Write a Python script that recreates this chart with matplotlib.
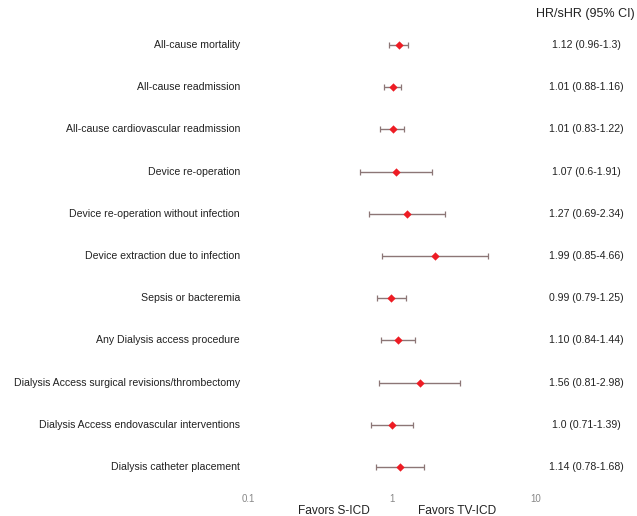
import matplotlib
matplotlib.use("Agg")
import matplotlib.pyplot as plt
from matplotlib.transforms import blended_transform_factory

outcomes = [
    "All-cause mortality",
    "All-cause readmission",
    "All-cause cardiovascular readmission",
    "Device re-operation",
    "Device re-operation without infection",
    "Device extraction due to infection",
    "Sepsis or bacteremia",
    "Any Dialysis access procedure",
    "Dialysis Access surgical revisions/thrombectomy",
    "Dialysis Access endovascular interventions",
    "Dialysis catheter placement",
]
hr = [1.12, 1.01, 1.01, 1.07, 1.27, 1.99, 0.99, 1.10, 1.56, 1.00, 1.14]
lower = [0.96, 0.88, 0.83, 0.60, 0.69, 0.85, 0.79, 0.84, 0.81, 0.71, 0.78]
upper = [1.30, 1.16, 1.22, 1.91, 2.34, 4.66, 1.25, 1.44, 2.98, 1.39, 1.68]
hr_text = [
    "1.12 (0.96-1.3)", "1.01 (0.88-1.16)", "1.01 (0.83-1.22)", "1.07 (0.6-1.91)",
    "1.27 (0.69-2.34)", "1.99 (0.85-4.66)", "0.99 (0.79-1.25)", "1.10 (0.84-1.44)",
    "1.56 (0.81-2.98)", "1.0 (0.71-1.39)", "1.14 (0.78-1.68)",
]
xticks = [0.1, 1, 10]
xtick_labels = ["0.1", "1", "10"]
header = "HR/sHR (95% CI)"
favor_left = "Favors S-ICD"
favor_right = "Favors TV-ICD"

plt.rcParams['font.family'] = ['Liberation Sans', 'DejaVu Sans']

W, H = 637, 516
fig = plt.figure(figsize=(W / 100, H / 100), dpi=100)
left = 248 / W
width = 288 / W
top_px, bot_px = 23.9, 488.1
ax = fig.add_axes([left, 1 - bot_px / H, width, (bot_px - top_px) / H])

ypos = list(range(1, len(outcomes) + 1))
err_lo = [h - l for h, l in zip(hr, lower)]
err_hi = [u - h for h, u in zip(hr, upper)]
ax.errorbar(hr, ypos, xerr=[err_lo, err_hi], fmt='none', ecolor='#8c7676',
            elinewidth=1.0, capsize=2.5, capthick=0.9, zorder=2)
ax.scatter(hr, ypos, marker='D', s=18, color='#ee1c24', zorder=3, linewidths=0)

ax.set_xscale('log')
ax.set_xlim(0.1, 10)
ax.set_ylim(len(outcomes) + 0.5, 0.5)
ax.set_yticks([])
ax.set_xticks(xticks)
ax.set_xticklabels(xtick_labels)
ax.minorticks_off()
ax.tick_params(axis='x', length=0, labelsize=7, labelcolor='#888888', pad=4)
for s in ax.spines.values():
    s.set_visible(False)
ax.patch.set_alpha(0)

tr = blended_transform_factory(ax.transAxes, ax.transData)
for y, name, txt in zip(ypos, outcomes, hr_text):
    ax.text(-0.028, y, name, ha='right', va='center', fontsize=7.6, color='#222222', transform=tr)
    ax.text((586 - 248) / 288, y, txt, ha='center', va='center', fontsize=7.6, color='#222222', transform=tr)

fig.text(536 / W, 1 - 14 / H, header, ha='left', va='center', fontsize=9, color='#222222')
fig.text(333.5 / W, 1 - 511 / H, favor_left, ha='center', va='center', fontsize=8.6, color='#222222')
fig.text(457.5 / W, 1 - 511 / H, favor_right, ha='center', va='center', fontsize=8.6, color='#222222')

fig.savefig("out.png", dpi=100, facecolor='white')
